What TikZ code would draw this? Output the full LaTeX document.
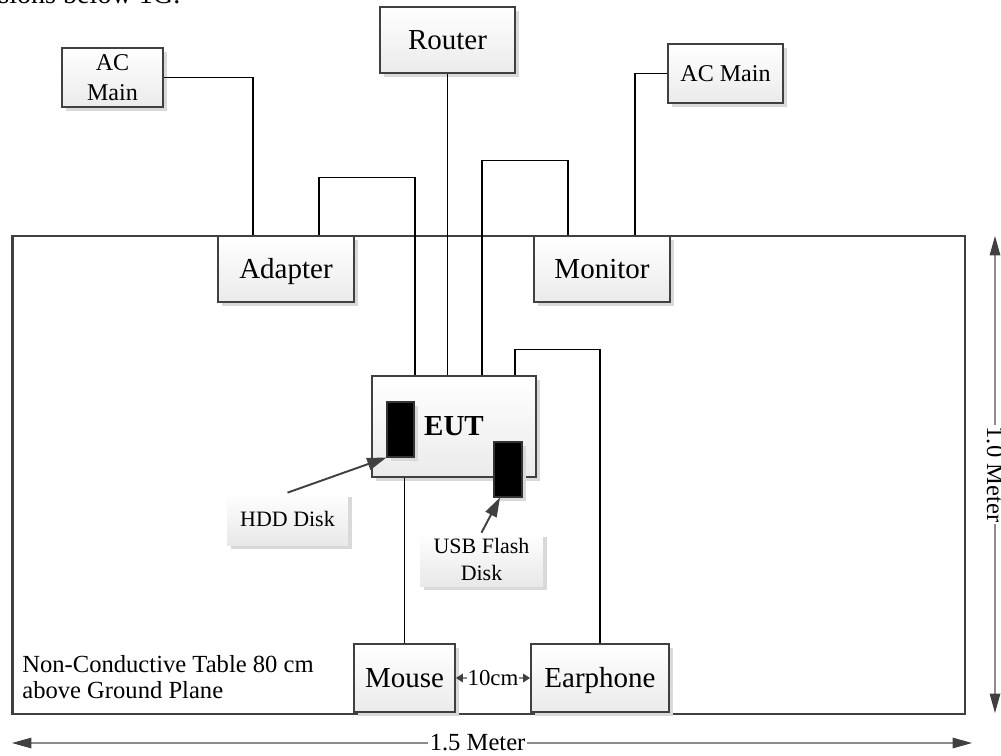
\documentclass[tikz,border=0pt]{standalone}
\usepackage{fontspec}
\setmainfont{Liberation Serif}
\usetikzlibrary{arrows.meta,positioning,shadows}

\begin{document}
\begin{tikzpicture}[
    x=0.02cm, y=-0.02cm,
    box/.style={draw=black!75, line width=1.1pt, top color=white, bottom color=black!8, drop shadow={shadow xshift=2pt, shadow yshift=-2pt, fill=black!15, opacity=1}, inner sep=1pt, align=center, font=\fontsize{16.5}{19}\selectfont},
    onebox/.style={box, text height=12pt, text depth=1.2pt},
    mainbox/.style={box, font=\fontsize{13.7}{17}\selectfont},
    tag/.style={top color=white, bottom color=black!9, drop shadow={shadow xshift=2pt, shadow yshift=-2pt, fill=black!15, opacity=1}, inner sep=1pt, align=center, font=\fontsize{12.5}{15.3}\selectfont},
    chip/.style={draw=black!80, fill=black, line width=0.6pt, drop shadow={shadow xshift=2pt, shadow yshift=-2pt, fill=black!15, opacity=1}, inner sep=0pt},
    wire/.style={black, line width=0.6pt},
    pointer/.style={-{Triangle[length=11pt, width=7pt]}, draw=black!75, line width=1.1pt},
    dim/.style={{Triangle[length=11pt, width=6pt, color=black!75]}-{Triangle[length=11pt, width=6pt, color=black!75]}, draw=black!45, line width=0.6pt},
    gapdim/.style={{Triangle[length=4pt, width=5pt, color=black!75]}-{Triangle[length=4pt, width=5pt, color=black!75]}, draw=black!45, line width=0.6pt},
    dimtext/.style={fill=white, inner sep=1pt, font=\fontsize{14}{16}\selectfont}
]
\useasboundingbox (0,0) rectangle (1001,755);

% clipped line of the page above
\node[anchor=base west, inner sep=0pt, font=\fontsize{16}{19}\selectfont] (pagetext) at (-2,3) {sions below 1G.};

% table
\node[draw=black!75, line width=1.6pt, minimum width=19.06cm, minimum height=9.56cm, inner sep=0pt] (table) at (488.5,475) {};
\node[anchor=north west, inner sep=0pt, align=left, font=\fontsize{14}{14.7}\selectfont] (tabletext) at (22,655) {Non-Conductive Table 80 cm\\above Ground Plane};

% devices
\node[mainbox, minimum width=2.02cm, minimum height=1.18cm] (acl) at (112.5,77.5) {AC\\Main};
\node[onebox, minimum width=2.7cm, minimum height=1.32cm] (router) at (447.5,40) {Router};
\node[mainbox, minimum width=2.3cm, minimum height=1.18cm] (acr) at (725.5,73.5) {AC Main};
\node[onebox, minimum width=2.72cm, minimum height=1.32cm] (adapter) at (286,269) {Adapter};
\node[onebox, minimum width=2.72cm, minimum height=1.32cm] (monitor) at (602,269) {Monitor};
\node[onebox, minimum width=3.28cm, minimum height=2.02cm, font=\fontsize{16.5}{19}\selectfont\bfseries] (eut) at (454,426.5) {EUT};
\node[onebox, minimum width=2.02cm, minimum height=1.36cm] (mouse) at (404.5,678) {Mouse};
\node[onebox, minimum width=2.76cm, minimum height=1.36cm] (earphone) at (600,678) {Earphone};

% disks
\node[chip, minimum width=0.54cm, minimum height=1.1cm] (hdd) at (400.5,429.5) {};
\node[chip, minimum width=0.56cm, minimum height=1.1cm] (usb) at (508,469.5) {};
\node[tag, minimum width=2.42cm, minimum height=1.04cm] (hddtag) at (287.5,519) {HDD Disk};
\node[tag, minimum width=2.46cm, minimum height=1.06cm] (usbtag) at (481.5,559.5) {USB Flash\\Disk};

% cables
\draw[wire] (acl.east) -| ([xshift=-0.66cm]adapter.north);
\draw[wire] ([xshift=0.66cm]adapter.north) -- ++(0,-58) -| ([xshift=-0.78cm]eut.north);
\draw[wire] (router.south) -- (router.south |- eut.north);
\draw[wire] ([xshift=0.56cm]eut.north) -- ++(0,-215) -| ([xshift=-0.68cm]monitor.north);
\draw[wire] (acr.west) -| ([xshift=0.66cm]monitor.north);
\draw[wire] ([xshift=1.22cm]eut.north) -- ++(0,-26) -| (earphone.north);
\draw[wire] (mouse.north |- eut.south) -- (mouse.north);

\draw[pointer] (hddtag.north) -- (hdd.south west);
\draw[pointer] (usbtag.north) -- ([xshift=-0.16cm]usb.south);

% dimensions
\draw[gapdim] (mouse.east) -- (earphone.west) node[midway, fill=white, inner sep=0.5pt, font=\fontsize{13}{15}\selectfont] (gap) {10cm};
\coordinate (dimL) at (12,743);
\coordinate (dimR) at (972,743);
\coordinate (dimT) at (995,236);
\coordinate (dimB) at (995,713);
\draw[dim] (dimL) -- (dimR) node[dimtext, pos=0.485] (width) {1.5 Meter};
\draw[dim] (dimT) -- (dimB) node[dimtext, midway, rotate=-90] (depth) {1.0 Meter};
\end{tikzpicture}
\end{document}
